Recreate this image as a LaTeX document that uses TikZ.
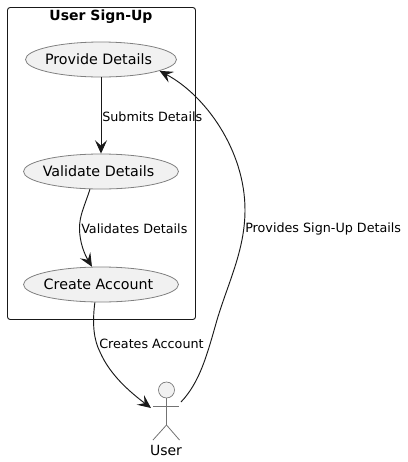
\documentclass[tikz,border=0pt]{standalone}
\usepackage{fontspec}
\setmainfont{DejaVu Sans}
\usetikzlibrary{shapes.geometric,arrows.meta,positioning}

\begin{document}
\begin{tikzpicture}[x=0.75pt,y=-0.75pt,
	usecase/.style={ellipse,draw=black!50,fill=black!5.5,line width=0.6pt,inner ysep=0pt,inner xsep=-8pt,minimum height=26.25pt,font=\fontsize{10.7}{12}\selectfont},
	lbl/.style={anchor=west,inner sep=0pt,font=\fontsize{9.55}{12}\selectfont},
	flow/.style={draw=black!90,line width=0.7pt,-{Stealth[length=10pt,width=9pt,inset=4pt]}},
	limb/.style={draw=black!55,line width=0.6pt}]
\useasboundingbox (0,0) rectangle (408,462);

\draw[rounded corners=2pt,line width=0.7pt,black!90] (7.5,7.5) rectangle (195.5,319.5);
\node[font=\fontsize{10.5}{12}\selectfont\bfseries] at (101,17) (title) {User Sign-Up};

\node[usecase,minimum width=113.25pt] at (101,59.5) (provide) {Provide Details\kern3.75pt};
\node[usecase,minimum width=116.25pt] at (101,171.5) (validate) {Validate Details\kern3.75pt};
\node[usecase,minimum width=116.25pt] at (101,284.5) (create) {Create Account\kern3.75pt};

% actor
\node[circle,draw=black!55,fill=black!5.5,line width=0.5pt,inner sep=0pt,minimum size=12pt] at (166.5,390) (head) {};
\coordinate (hip) at (166.5,425);
\coordinate (armL) at (153,406);
\coordinate (armR) at (179.5,406);
\foreach \x in {(153,440),(179.5,440)}
	\draw[limb] (hip) -- \x;
\draw[limb] (head) -- (hip);
\draw[limb] (armL) -- (armR);
\node[font=\fontsize{10.5}{12}\selectfont] at (166,450) (user) {User};
\coordinate (hand) at (181,402);
\coordinate (handin) at (151,408);

\draw[flow] (provide.south) -- (validate.north);
\node[lbl] at (102,116.5) (submitslbl) {Submits Details};

\draw[flow] (validate.-122) .. controls (85,205) and (79.5,215) .. (79.5,228) .. controls (79.5,243) and (85,255) .. (create.117);
\node[lbl] at (81,228.5) (validateslbl) {Validates Details};

\draw[flow] (create.-109) .. controls (92,325) and (94,340) .. (100,352) .. controls (110,375) and (130,392) .. (handin);
\node[lbl] at (99,344) (createslbl) {Creates Account};

\draw[flow] (hand) .. controls (200,382) and (207,355) .. (217,320) .. controls (228,283) and (245,250) .. (245,210) .. controls (245,150) and (205,95) .. (provide.-11);
\node[lbl] at (245,228.5) (provideslbl) {Provides Sign-Up Details};
\end{tikzpicture}
\end{document}
